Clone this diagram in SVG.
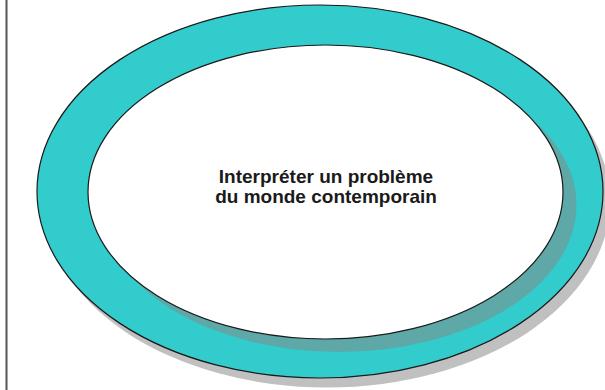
<svg xmlns="http://www.w3.org/2000/svg" width="605" height="390" viewBox="0 0 605 390">
  <style>
    .ring { fill: #33cccc; stroke: #1a1a1a; stroke-width: 1.2; }
    .inner { fill: #ffffff; stroke: #1a1a1a; stroke-width: 1.2; }
    .label { font-family: "Liberation Sans", Arial, sans-serif; font-weight: bold; font-size: 19px; fill: #1a1a1a; text-anchor: middle; }
  </style>
  <rect x="0" y="0" width="605" height="390" fill="#ffffff"/>
  <line x1="6.5" y1="0" x2="6.5" y2="390" stroke="#555555" stroke-width="2"/>
  <g id="outer-ring">
    <ellipse cx="327" cy="201" rx="283" ry="186.5" fill="#c0c0c0"/>
    <ellipse class="ring" cx="320" cy="191.5" rx="283" ry="186.5"/>
  </g>
  <g id="node-center">
    <ellipse cx="339" cy="205" rx="237.5" ry="147" fill="#5ea8a8"/>
    <ellipse class="inner" cx="325.5" cy="192" rx="237.5" ry="147"/>
    <text class="label" x="326" y="183">Interpréter un problème</text>
    <text class="label" x="326" y="203">du monde contemporain</text>
  </g>
  <g id="connectors"/>
</svg>
